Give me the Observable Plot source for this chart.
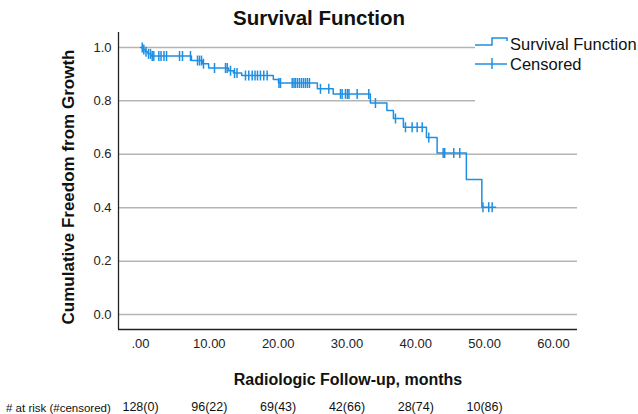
<!DOCTYPE html>
<html>
<head>
<meta charset="utf-8">
<script src="https://cdn.jsdelivr.net/npm/d3@7"></script>
<script src="https://cdn.jsdelivr.net/npm/@observablehq/plot@0.6"></script>
<style>
  body { margin: 0; background: #fff; font-family: "Liberation Sans", Arial, sans-serif; }
  #wrap { position: relative; width: 638px; height: 414px; overflow: hidden; background: #fff; }
  #title { position: absolute; left: 0; top: 6px; width: 638px; text-align: center; font-weight: bold; font-size: 20.5px; color: #111; }
  #legend { position: absolute; left: 475px; top: 33px; width: 163px; height: 75px; background: #fff; }
  #legend svg { position: absolute; left: 0; top: 0; }
  .lg { position: absolute; left: 35px; font-size: 16.5px; color: #111; white-space: nowrap; }
  #risklab { position: absolute; left: 6px; top: 402px; font-size: 11.5px; color: #111; white-space: nowrap; }
</style>
</head>
<body>
<div id="wrap">
  <div id="chart"></div>
  <div id="title"></div>
  <div id="legend"></div>
  <div id="risklab"></div>
</div>
<script>
// ---- data ----
const titleText = "Survival Function";
const yLabel = "Cumulative Freedom from Growth";
const xLabel = "Radiologic Follow-up, months";
const legendLabels = ["Survival Function", "Censored"];
const riskHeader = "# at risk (#censored)";

// Kaplan–Meier step curve: event times (months) and survival after each step
const stepMonths   = [0, 0.3, 0.7, 1.1, 1.5, 7.4, 9.0, 9.9, 12.8, 13.5, 14.7, 19.3, 20.05, 25.7, 28.0, 33.4, 35.8, 36.75, 38.2, 41.55, 43.1, 47.35, 49.6];
const stepSurvival = [1.0, 0.992, 0.984, 0.976, 0.968, 0.951, 0.939, 0.923, 0.913, 0.904, 0.895, 0.880, 0.867, 0.845, 0.826, 0.792, 0.764, 0.734, 0.701, 0.663, 0.605, 0.506, 0.402];
const lastFollowUp = 51.6;

// censored observations (months)
const censorMonths = [0.25, 0.48, 0.8, 1.16, 1.45, 1.7, 1.93, 2.66, 2.98, 3.41, 3.78, 5.67, 6.1, 7.26,
  8.28, 8.57, 8.86, 9.15, 10.75, 12.35, 12.6, 13.08, 13.66, 14.02, 15.25, 15.73, 16.23, 16.64, 17.0,
  17.43, 17.91, 18.4, 20.12, 20.34, 22.04, 22.3, 22.52, 22.81, 23.1, 23.39, 23.68, 23.97, 24.26, 24.55,
  26.15, 27.36, 29.06, 29.3, 29.78, 30.07, 30.29, 31.48, 33.17, 34.14, 37.05, 38.5, 39.47, 40.2, 40.93,
  41.89, 43.98, 44.2, 45.52, 46.39, 49.76, 50.6, 51.1];

const xTicks = [0, 10, 20, 30, 40, 50, 60];
const xTickLabels = [".00", "10.00", "20.00", "30.00", "40.00", "50.00", "60.00"];
const yTicks = [0, 0.2, 0.4, 0.6, 0.8, 1.0];
const yTickLabels = ["0.0", "0.2", "0.4", "0.6", "0.8", "1.0"];

const riskMonths = [0, 10, 20, 30, 40, 50];
const riskLabels = ["128(0)", "96(22)", "69(43)", "42(66)", "28(74)", "10(86)"];

// ---- build tables ----
const xDomain = [-3.2, 63.5];
const yDomain = [-0.056, 1.056];
const blue = "#1f8fe3";

const curve = stepMonths.map((t, i) => ({t, s: stepSurvival[i]}));
curve.push({t: lastFollowUp, s: stepSurvival[stepSurvival.length - 1]});

function survAt(t) {
  let s = 1;
  for (let i = 0; i < stepMonths.length; i++) if (stepMonths[i] <= t) s = stepSurvival[i];
  return s;
}
const censored = censorMonths.map(t => ({t, s: survAt(t)}));
const risk = riskMonths.map((m, i) => ({m, label: riskLabels[i]}));

const vbar = {
  draw(context, size) {
    const h = Math.sqrt(size / Math.PI);
    context.moveTo(0, -h);
    context.lineTo(0, h);
  }
};

const chart = Plot.plot({
  width: 638,
  height: 414,
  marginTop: 32,
  marginLeft: 118,
  marginRight: 61,
  marginBottom: 85,
  x: {domain: xDomain},
  y: {domain: yDomain},
  style: {fontFamily: "Liberation Sans, Arial, sans-serif", fontSize: "13px", color: "#222", background: "white"},
  marks: [
    Plot.ruleY(yTicks, {stroke: "#b5b5b5", strokeWidth: 1.5}),
    Plot.axisY({ticks: yTicks, tickSize: 0, tickPadding: 7, label: null,
      tickFormat: d => yTickLabels[yTicks.indexOf(d)], fontSize: 13}),
    Plot.axisX({ticks: xTicks, tickSize: 0, tickPadding: 9, label: null,
      tickFormat: d => xTickLabels[xTicks.indexOf(d)], fontSize: 13}),
    Plot.ruleX([xDomain[0]], {stroke: "#222", strokeWidth: 1.3}),
    Plot.ruleY([yDomain[0]], {stroke: "#222", strokeWidth: 1.3}),
    Plot.line(curve, {x: "t", y: "s", curve: "step-after", stroke: blue, strokeWidth: 1.5}),
    Plot.dot(censored, {x: "t", y: "s", symbol: vbar, r: 5, stroke: blue, fill: "none", strokeWidth: 1.5}),
    Plot.text([yLabel], {text: d => d, frameAnchor: "left", textAnchor: "middle", rotate: -90, dx: -50, dy: 6,
      fontWeight: "bold", fontSize: 17, fill: "#111"}),
    Plot.text([xLabel], {text: d => d, frameAnchor: "bottom", dy: 55, fontWeight: "bold", fontSize: 16, fill: "#111"}),
    Plot.text(risk, {x: "m", text: "label", frameAnchor: "bottom", dy: 81, fontSize: 12.5, fill: "#111"})
  ]
});
document.getElementById("chart").appendChild(chart);

document.getElementById("title").textContent = titleText;
document.getElementById("risklab").textContent = riskHeader;

// legend
const lg = document.getElementById("legend");
lg.innerHTML =
  `<svg width="40" height="75">
     <polyline points="0,12 17,12 17,5 32,5 32,8" fill="none" stroke="${blue}" stroke-width="1.5"/>
     <line x1="0" y1="31" x2="32" y2="31" stroke="${blue}" stroke-width="1.5"/>
     <line x1="17" y1="25" x2="17" y2="36" stroke="${blue}" stroke-width="1.5"/>
   </svg>
   <div class="lg" style="top:2px">${legendLabels[0]}</div>
   <div class="lg" style="top:22px">${legendLabels[1]}</div>`;
</script>
</body>
</html>
